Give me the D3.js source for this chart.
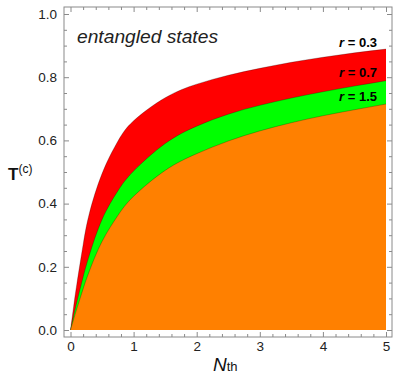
<!DOCTYPE html>
<html><head><meta charset="utf-8">
<script src="https://cdn.jsdelivr.net/npm/d3@7"></script>
<style>body{margin:0;background:#fff}svg{display:block}</style>
</head><body>
<script>
const nth = [0, 0.05, 0.1, 0.2, 0.3, 0.5, 0.75, 1, 1.5, 2, 2.5, 3, 3.5, 4, 4.5, 5];
const tR03 = [0, 0.075, 0.145, 0.27, 0.37, 0.495, 0.597, 0.662, 0.735, 0.778, 0.806, 0.828, 0.847, 0.863, 0.877, 0.889];
const tR07 = [0, 0.045, 0.088, 0.168, 0.238, 0.35, 0.44, 0.503, 0.59, 0.645, 0.683, 0.711, 0.734, 0.754, 0.772, 0.789];
const tR15 = [0, 0.034, 0.067, 0.13, 0.187, 0.28, 0.362, 0.423, 0.505, 0.558, 0.598, 0.63, 0.656, 0.678, 0.697, 0.715];
const seriesLabels = ["r = 0.3", "r = 0.7", "r = 1.5"];
const xTicks = [0, 1, 2, 3, 4, 5];
const yTicks = [0, 0.2, 0.4, 0.6, 0.8, 1.0];

const W = 403, H = 380;
const svg = d3.select("body").append("svg").attr("width", W).attr("height", H);
const x = d3.scaleLinear().domain([0, 5]).range([70.5, 386]);
const y = d3.scaleLinear().domain([0, 1]).range([330, 14]);
const fL = 64, fR = 392, fT = 7, fB = 337;

const series = [
  {vals: tR03, color: "#ff0000"},
  {vals: tR07, color: "#00ff00"},
  {vals: tR15, color: "#ff8000"}
];
const area = d3.area().x(d => x(d[0])).y0(y(0)).y1(d => y(d[1])).curve(d3.curveNatural);
const line = d3.line().x(d => x(d[0])).y(d => y(d[1])).curve(d3.curveNatural);
series.forEach(s => {
  const pts = nth.map((n, i) => [n, s.vals[i]]);
  svg.append("path").attr("d", area(pts)).attr("fill", s.color);
  svg.append("path").attr("d", line(pts)).attr("fill", "none").attr("stroke", "#000").attr("stroke-opacity", 0.35).attr("stroke-width", 0.7);
});

// frame
svg.append("rect").attr("x", fL).attr("y", fT).attr("width", fR - fL).attr("height", fB - fT)
  .attr("fill", "none").attr("stroke", "#8a8a8a").attr("stroke-width", 1);

function styleAxis(g) {
  g.select(".domain").remove();
  g.selectAll("line").attr("stroke", "#8a8a8a");
  g.selectAll("text").attr("fill", "#222").style("font-family", "Liberation Sans, Arial, sans-serif").style("font-size", "13.5px");
}
const xMinor = d3.range(0, 5.001, 0.2).filter(v => Math.abs(v - Math.round(v)) > 1e-6);
const yMinor = d3.range(0, 1.001, 0.05).filter(v => Math.abs(v * 5 - Math.round(v * 5)) > 1e-6);

svg.append("g").attr("transform", `translate(0,${fB})`)
  .call(d3.axisBottom(x).tickValues(xTicks).tickSize(-5).tickPadding(4).tickFormat(d3.format("d"))).call(styleAxis);
svg.append("g").attr("transform", `translate(0,${fB})`)
  .call(d3.axisBottom(x).tickValues(xMinor).tickSize(-3).tickFormat("")).call(styleAxis);
svg.append("g").attr("transform", `translate(0,${fT})`)
  .call(d3.axisTop(x).tickValues(xTicks).tickSize(-5).tickFormat("")).call(styleAxis);
svg.append("g").attr("transform", `translate(0,${fT})`)
  .call(d3.axisTop(x).tickValues(xMinor).tickSize(-3).tickFormat("")).call(styleAxis);

svg.append("g").attr("transform", `translate(${fL},0)`)
  .call(d3.axisLeft(y).tickValues(yTicks).tickSize(-5).tickPadding(7).tickFormat(d3.format(".1f"))).call(styleAxis);
svg.append("g").attr("transform", `translate(${fL},0)`)
  .call(d3.axisLeft(y).tickValues(yMinor).tickSize(-3).tickFormat("")).call(styleAxis);
svg.append("g").attr("transform", `translate(${fR},0)`)
  .call(d3.axisRight(y).tickValues(yTicks).tickSize(-5).tickFormat("")).call(styleAxis);
svg.append("g").attr("transform", `translate(${fR},0)`)
  .call(d3.axisRight(y).tickValues(yMinor).tickSize(-3).tickFormat("")).call(styleAxis);

const font = "Liberation Sans, Arial, sans-serif";
// x title
const xt = svg.append("text").attr("x", 213).attr("y", 370.5).style("font-family", font).attr("fill", "#111");
xt.append("tspan").text("N").style("font-style", "italic").style("font-size", "19px");
xt.append("tspan").text("th").style("font-size", "13px");
// y title
const yt = svg.append("text").attr("x", 8).attr("y", 180).style("font-family", font).attr("fill", "#111");
yt.append("tspan").text("T").style("font-weight", "bold").style("font-size", "17px");
yt.append("tspan").text("(c)").style("font-size", "12px").attr("dy", -7);

// annotation
svg.append("text").attr("x", 77).attr("y", 43).text("entangled states")
  .style("font-family", font).style("font-style", "italic").style("font-size", "18.5px")
  .attr("fill", "#222").attr("textLength", 141).attr("lengthAdjust", "spacingAndGlyphs");

const labY = [46.7, 77.3, 101];
seriesLabels.forEach((t, i) => {
  const parts = t.split(" = ");
  const tx = svg.append("text").attr("x", 377).attr("y", labY[i]).attr("text-anchor", "end")
    .style("font-family", font).style("font-weight", "bold").style("font-size", "13px").attr("fill", "#000");
  tx.append("tspan").text(parts[0]).style("font-style", "italic");
  tx.append("tspan").text(" = " + parts[1]);
});
</script>
</body></html>
